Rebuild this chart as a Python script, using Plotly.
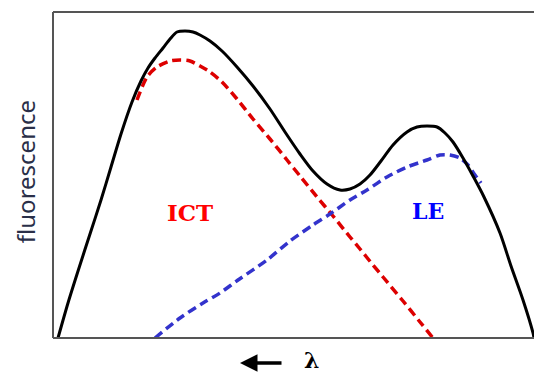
import plotly.graph_objects as go

# Schematic emission spectrum (arbitrary units): wavelength position vs. intensity
total_x = [5, 15, 26, 37, 48, 58, 68, 79, 88, 95, 102, 110, 117, 124, 132, 140, 147, 157, 169, 184,
           200, 217, 232, 247, 260, 274, 287, 297, 307, 317, 328, 340, 354, 364, 374, 384, 392, 400,
           410, 420, 431, 447, 458, 470, 480, 481]
total_y = [0, 35, 70, 104, 138, 171, 204, 236, 257, 270, 280, 290, 299, 306, 307, 306, 303, 297, 287, 271,
           252, 229, 206, 184, 167, 154, 148, 149, 154, 163, 177, 193, 206, 211, 212, 211, 205, 196,
           180, 162, 141, 105, 72, 38, 5, 0]

# Intramolecular charge-transfer band
ict_x = [84, 94, 104, 117, 127, 137, 147, 157, 169, 184, 200, 217, 234, 247, 264, 280, 297, 307,
         320, 330, 350, 367, 380]
ict_y = [238, 261, 271, 277, 278, 277, 272, 266, 256, 239, 219, 199, 178, 162, 141, 122, 101, 89,
         73, 61, 37, 16, 0]

# Locally excited band
le_x = [102, 127, 150, 167, 185, 214, 237, 260, 277, 297, 314, 334, 354, 374, 387, 397, 407, 415,
        422, 428]
le_y = [0, 20, 35, 45, 58, 78, 97, 113, 124, 138, 148, 161, 171, 178, 183, 183, 180, 173, 163, 155]

fig = go.Figure()
fig.add_trace(go.Scatter(x=ict_x, y=ict_y, mode="lines",
                         line=dict(color="#dd0000", width=3.5, dash="9px,5px", shape="spline", smoothing=0.8)))
fig.add_trace(go.Scatter(x=le_x, y=le_y, mode="lines",
                         line=dict(color="#3333cc", width=3.5, dash="9px,5px", shape="spline", smoothing=0.8)))
fig.add_trace(go.Scatter(x=total_x, y=total_y, mode="lines",
                         line=dict(color="black", width=3, shape="spline", smoothing=0.8)))

fig.add_annotation(x=137, y=126, text="<b>ICT</b>", showarrow=False,
                   font=dict(family="DejaVu Serif", size=23, color="#ff0000"))
fig.add_annotation(x=375, y=127, text="<b>LE</b>", showarrow=False,
                   font=dict(family="DejaVu Serif", size=22, color="#0000ff"))
fig.add_annotation(xref="paper", yref="paper", x=-0.058, y=0.509, text="fluorescence", textangle=-90,
                   showarrow=False, xanchor="center", yanchor="middle",
                   font=dict(family="Noto Sans", size=24, color="#2a2f48"))

# wavelength direction arrow and symbol below the frame
fig.add_annotation(xref="paper", yref="paper", x=(240 - 53) / 481, y=-25 / 326, text="",
                   showarrow=True, arrowhead=2, arrowsize=1, arrowwidth=3.5, arrowcolor="black",
                   ax=43, ay=0)
fig.add_annotation(xref="paper", yref="paper", x=(311 - 53) / 481, y=-22 / 326, text="<b>λ</b>",
                   showarrow=False, xanchor="center", yanchor="middle",
                   font=dict(family="DejaVu Serif", size=22, color="black"))

# frame: left, top and bottom edges only
frame = dict(type="line", xref="paper", yref="paper", line=dict(color="#555555", width=2))
fig.add_shape(x0=0, x1=0, y0=0, y1=1, **frame)
fig.add_shape(x0=0, x1=1, y0=1, y1=1, **frame)
fig.add_shape(x0=0, x1=1, y0=0, y1=0, **frame)

fig.update_layout(
    width=534, height=374,
    margin=dict(l=53, r=0, t=12, b=36),
    paper_bgcolor="white", plot_bgcolor="white",
    showlegend=False,
    xaxis=dict(range=[0, 481], showgrid=False, zeroline=False, showticklabels=False, ticks="",
               showline=False),
    yaxis=dict(range=[0, 326], showgrid=False, zeroline=False, showticklabels=False, ticks="",
               showline=False),
)

fig.write_html("out.html")
